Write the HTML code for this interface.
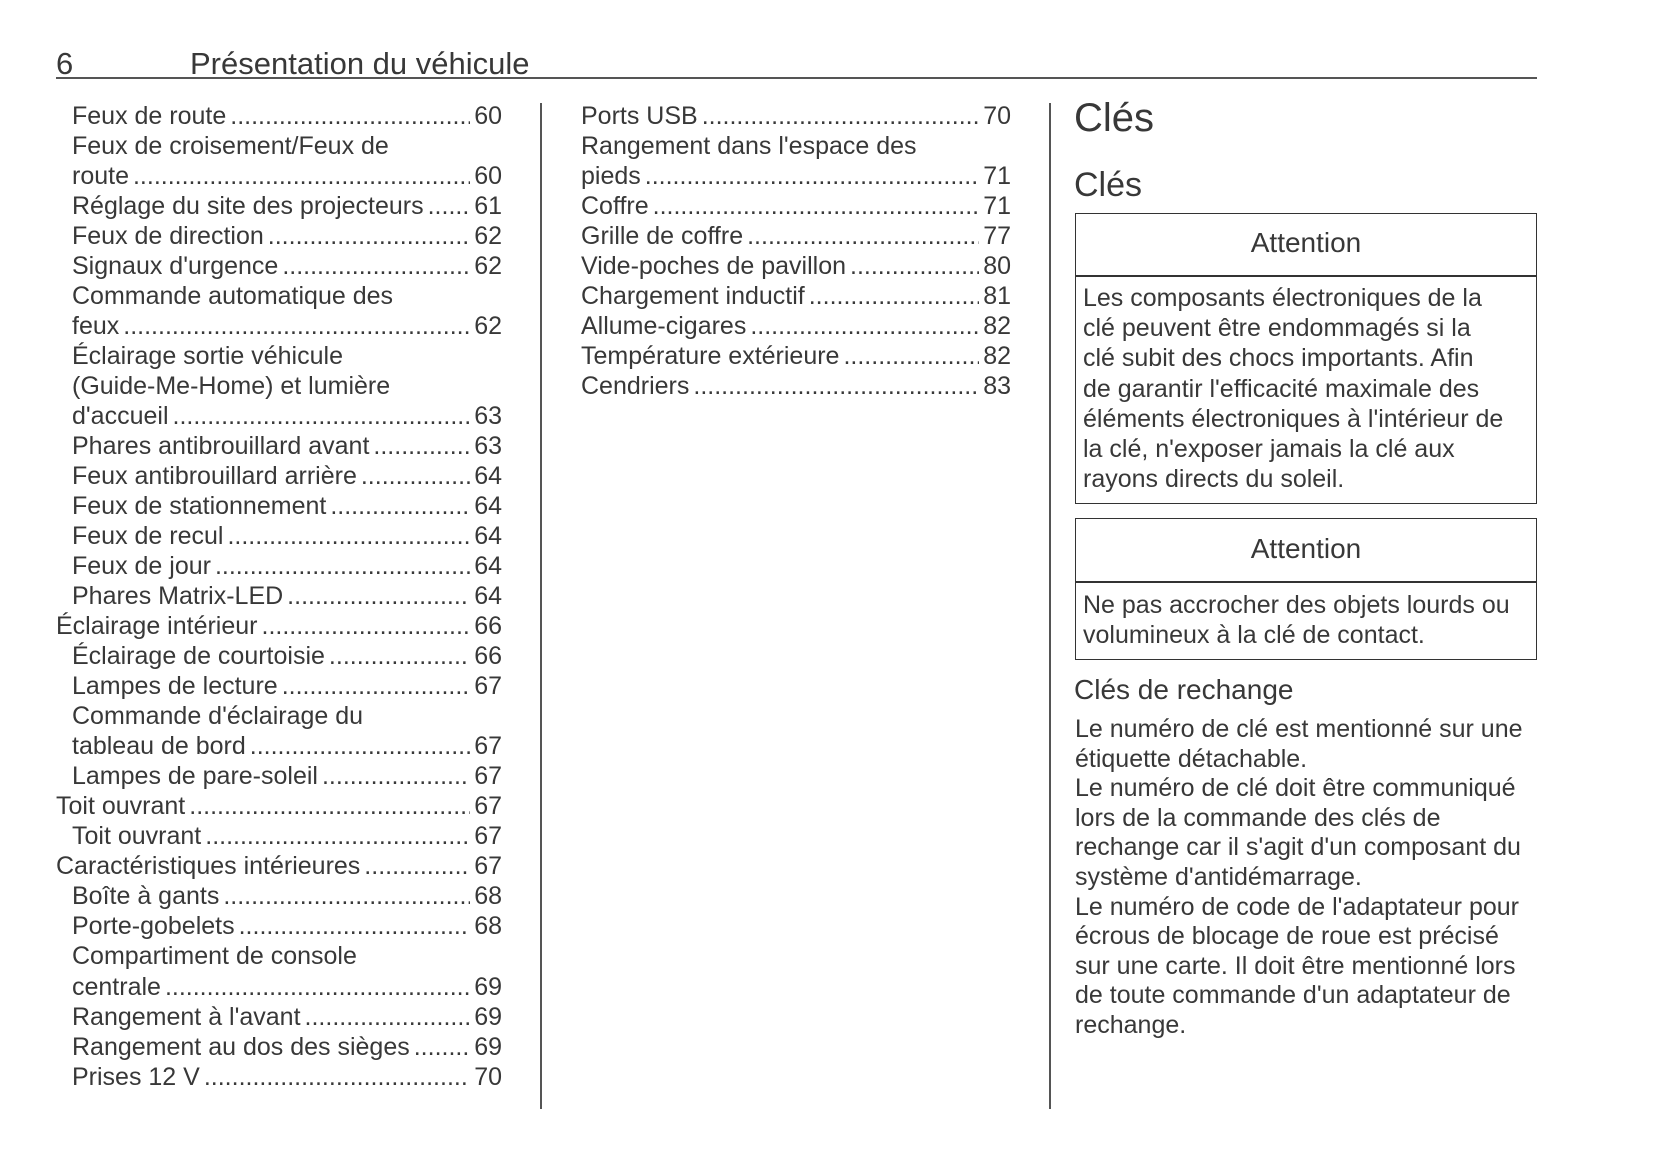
<!DOCTYPE html>
<html><head><meta charset="utf-8"><style>
body{margin:0;width:1653px;height:1165px;background:#fff;position:relative;overflow:hidden;font-family:"Liberation Sans",Arial,sans-serif;color:#383838}
.a{position:absolute;white-space:nowrap}
.toc{position:absolute;font-size:25px;line-height:30.03px}
.r{display:flex;white-space:nowrap}
.r .d{flex:1;overflow:hidden;margin:0 4px}
.r .d::before{content:"..............................................................................................................................."}
.i{padding-left:16px}
.vl{position:absolute;width:1.5px;background:#555;top:103px;height:1006px}
.box{position:absolute;left:1075px;width:462px;border:1.5px solid #333;box-sizing:border-box}
.bt{font-size:25px;line-height:30.2px}
</style></head><body>
<div class="a" style="left:56px;top:48px;font-size:31px;line-height:31px">6</div>
<div class="a" style="left:190px;top:48px;font-size:31px;line-height:31px">Présentation du véhicule</div>
<div class="a" style="left:56px;top:77px;width:1481px;height:2px;background:#555"></div>

<div class="toc" style="left:56px;top:100.6px;width:446px">
<div class="r i"><span>Feux de route</span><span class="d"></span><span>60</span></div>
<div class="r i"><span>Feux de croisement/Feux de</span></div>
<div class="r i"><span>route</span><span class="d"></span><span>60</span></div>
<div class="r i"><span>Réglage du site des projecteurs</span><span class="d"></span><span>61</span></div>
<div class="r i"><span>Feux de direction</span><span class="d"></span><span>62</span></div>
<div class="r i"><span>Signaux d'urgence</span><span class="d"></span><span>62</span></div>
<div class="r i"><span>Commande automatique des</span></div>
<div class="r i"><span>feux</span><span class="d"></span><span>62</span></div>
<div class="r i"><span>Éclairage sortie véhicule</span></div>
<div class="r i"><span>(Guide-Me-Home) et lumière</span></div>
<div class="r i"><span>d'accueil</span><span class="d"></span><span>63</span></div>
<div class="r i"><span>Phares antibrouillard avant</span><span class="d"></span><span>63</span></div>
<div class="r i"><span>Feux antibrouillard arrière</span><span class="d"></span><span>64</span></div>
<div class="r i"><span>Feux de stationnement</span><span class="d"></span><span>64</span></div>
<div class="r i"><span>Feux de recul</span><span class="d"></span><span>64</span></div>
<div class="r i"><span>Feux de jour</span><span class="d"></span><span>64</span></div>
<div class="r i"><span>Phares Matrix-LED</span><span class="d"></span><span>64</span></div>
<div class="r"><span>Éclairage intérieur</span><span class="d"></span><span>66</span></div>
<div class="r i"><span>Éclairage de courtoisie</span><span class="d"></span><span>66</span></div>
<div class="r i"><span>Lampes de lecture</span><span class="d"></span><span>67</span></div>
<div class="r i"><span>Commande d'éclairage du</span></div>
<div class="r i"><span>tableau de bord</span><span class="d"></span><span>67</span></div>
<div class="r i"><span>Lampes de pare-soleil</span><span class="d"></span><span>67</span></div>
<div class="r"><span>Toit ouvrant</span><span class="d"></span><span>67</span></div>
<div class="r i"><span>Toit ouvrant</span><span class="d"></span><span>67</span></div>
<div class="r"><span>Caractéristiques intérieures</span><span class="d"></span><span>67</span></div>
<div class="r i"><span>Boîte à gants</span><span class="d"></span><span>68</span></div>
<div class="r i"><span>Porte-gobelets</span><span class="d"></span><span>68</span></div>
<div class="r i"><span>Compartiment de console</span></div>
<div class="r i"><span>centrale</span><span class="d"></span><span>69</span></div>
<div class="r i"><span>Rangement à l'avant</span><span class="d"></span><span>69</span></div>
<div class="r i"><span>Rangement au dos des sièges</span><span class="d"></span><span>69</span></div>
<div class="r i"><span>Prises 12 V</span><span class="d"></span><span>70</span></div>
</div>

<div class="vl" style="left:540px"></div>

<div class="toc" style="left:581px;top:100.6px;width:430px">
<div class="r"><span>Ports USB</span><span class="d"></span><span>70</span></div>
<div class="r"><span>Rangement dans l'espace des</span></div>
<div class="r"><span>pieds</span><span class="d"></span><span>71</span></div>
<div class="r"><span>Coffre</span><span class="d"></span><span>71</span></div>
<div class="r"><span>Grille de coffre</span><span class="d"></span><span>77</span></div>
<div class="r"><span>Vide-poches de pavillon</span><span class="d"></span><span>80</span></div>
<div class="r"><span>Chargement inductif</span><span class="d"></span><span>81</span></div>
<div class="r"><span>Allume-cigares</span><span class="d"></span><span>82</span></div>
<div class="r"><span>Température extérieure</span><span class="d"></span><span>82</span></div>
<div class="r"><span>Cendriers</span><span class="d"></span><span>83</span></div>
</div>

<div class="vl" style="left:1049px"></div>

<div class="a" style="left:1074px;top:98px;font-size:40px;line-height:40px">Clés</div>
<div class="a" style="left:1074px;top:168px;font-size:34px;line-height:34px">Clés</div>

<div class="box" style="top:213px;height:291px"></div>
<div class="a" style="left:1075px;top:275px;width:462px;height:1.5px;background:#333"></div>
<div class="a" style="left:1075px;top:229px;width:462px;text-align:center;font-size:28px;line-height:28px">Attention</div>
<div class="a bt" style="left:1083px;top:283px">Les composants électroniques de la<br>clé peuvent être endommagés si la<br>clé subit des chocs importants. Afin<br>de garantir l'efficacité maximale des<br>éléments électroniques à l'intérieur de<br>la clé, n'exposer jamais la clé aux<br>rayons directs du soleil.</div>

<div class="box" style="top:518px;height:142px"></div>
<div class="a" style="left:1075px;top:581px;width:462px;height:1.5px;background:#333"></div>
<div class="a" style="left:1075px;top:535px;width:462px;text-align:center;font-size:28px;line-height:28px">Attention</div>
<div class="a bt" style="left:1083px;top:590px">Ne pas accrocher des objets lourds ou<br>volumineux à la clé de contact.</div>

<div class="a" style="left:1074px;top:676px;font-size:28px;line-height:28px">Clés de rechange</div>
<div class="a" style="left:1075px;top:715px;font-size:25px;line-height:29.6px">Le numéro de clé est mentionné sur une<br>étiquette détachable.<br>Le numéro de clé doit être communiqué<br>lors de la commande des clés de<br>rechange car il s'agit d'un composant du<br>système d'antidémarrage.<br>Le numéro de code de l'adaptateur pour<br>écrous de blocage de roue est précisé<br>sur une carte. Il doit être mentionné lors<br>de toute commande d'un adaptateur de<br>rechange.</div>
</body></html>
